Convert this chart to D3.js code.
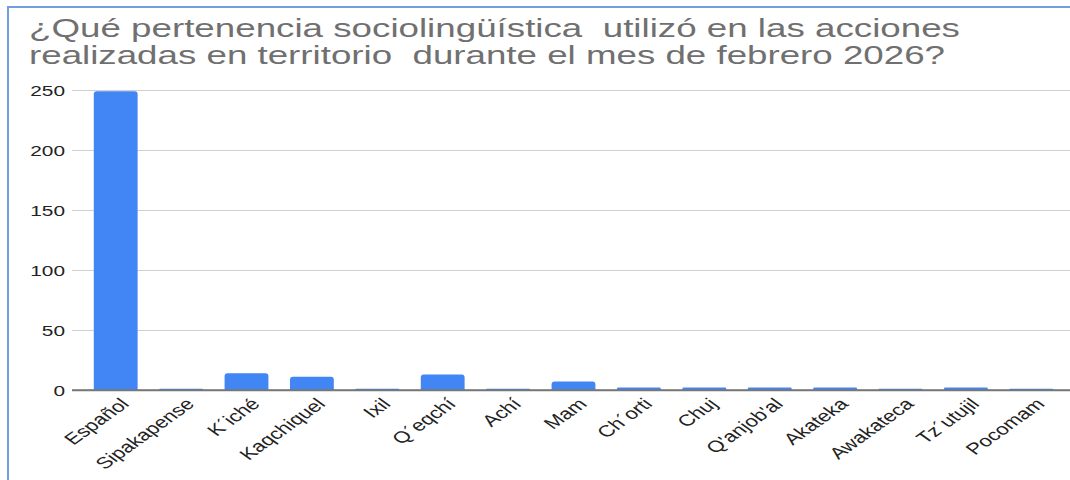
<!DOCTYPE html>
<html>
<head>
<meta charset="utf-8">
<script src="https://cdn.jsdelivr.net/npm/d3@7"></script>
<style>
  body { margin: 0; background: #fff; }
  text { font-family: "Liberation Sans", Arial, sans-serif; }
</style>
</head>
<body>
<svg id="chart" width="1070" height="480"></svg>
<script>
// data
var categories = ["Español", "Sipakapense", "K´iché", "Kaqchiquel", "Ixil", "Q´eqchí", "Achí", "Mam",
                  "Ch´orti", "Chuj", "Q'anjob'al", "Akateka", "Awakateca", "Tz´utujil", "Pocomam"];
var counts = [249, 1, 14, 11, 1, 13, 1, 7, 2, 2, 2, 2, 1, 2, 1];
var yTicks = [0, 50, 100, 150, 200, 250];
var titleLines = ["¿Qué pertenencia sociolingüística  utilizó en las acciones",
                  "realizadas en territorio  durante el mes de febrero 2026?"];

var svg = d3.select("#chart");
var stretch = 1.39; // picture is stretched sideways

// light blue frame
svg.append("rect")
  .attr("x", 8).attr("y", 7)
  .attr("width", 1100).attr("height", 500)
  .attr("fill", "none")
  .attr("stroke", "#6fa0dc")
  .attr("stroke-width", 2);

// title
svg.selectAll(".title")
  .data(titleLines)
  .enter().append("text")
  .attr("class", "title")
  .attr("x", 29)
  .attr("y", function(d, i) { return 37 + i * 26.5; })
  .attr("font-size", "25px")
  .attr("fill", "#707070")
  .attr("textLength", function(d, i) { return i == 0 ? 931 : 916; })
  .attr("lengthAdjust", "spacingAndGlyphs")
  .style("white-space", "pre")
  .text(function(d) { return d; });

var x = d3.scaleBand()
  .domain(categories)
  .range([83, 1064])
  .paddingInner(0.33)
  .paddingOuter(0.165);

var y = d3.scaleLinear().domain([0, 250]).range([390, 90]);

// gridlines + y labels
var yAxis = svg.append("g")
  .attr("transform", "translate(72,0)")
  .call(d3.axisLeft(y).tickValues(yTicks).tickSize(-998).tickSizeOuter(0));
yAxis.select(".domain").remove();
yAxis.selectAll(".tick line")
  .attr("stroke", function(d) { return d == 0 ? "#777" : "#d0d0d0"; })
  .attr("stroke-width", function(d) { return d == 0 ? 1.6 : 1; });
yAxis.selectAll(".tick text")
  .attr("x", 0).attr("dy", null)
  .attr("transform", "translate(-7,5) scale(" + stretch + ",1)")
  .attr("font-size", "15px")
  .attr("fill", "#222");

// bars with rounded tops
svg.append("g").selectAll("path")
  .data(categories)
  .enter().append("path")
  .attr("fill", "#4285f4")
  .attr("d", function(d, i) {
    var x0 = x(d), w = x.bandwidth(), top = y(counts[i]), base = y(0);
    var r = Math.min(3, (base - top) / 2);
    return "M" + x0 + "," + base +
      "V" + (top + r) +
      "Q" + x0 + "," + top + " " + (x0 + r) + "," + top +
      "H" + (x0 + w - r) +
      "Q" + (x0 + w) + "," + top + " " + (x0 + w) + "," + (top + r) +
      "V" + base + "Z";
  });

// baseline again on top of bars
svg.append("line")
  .attr("x1", 72).attr("x2", 1070)
  .attr("y1", y(0)).attr("y2", y(0))
  .attr("stroke", "#777").attr("stroke-width", 1.6);

// x labels, rotated then stretched like the picture
var xAxis = svg.append("g")
  .attr("transform", "translate(0," + y(0) + ")")
  .call(d3.axisBottom(x).tickSize(0));
xAxis.select(".domain").remove();
xAxis.selectAll(".tick text")
  .attr("x", 0).attr("y", 0).attr("dy", "0.35em")
  .attr("transform", "translate(9,11) scale(" + stretch + ",1) rotate(-45)")
  .attr("text-anchor", "end")
  .attr("font-size", "16px")
  .attr("fill", "#222");
</script>
</body>
</html>
